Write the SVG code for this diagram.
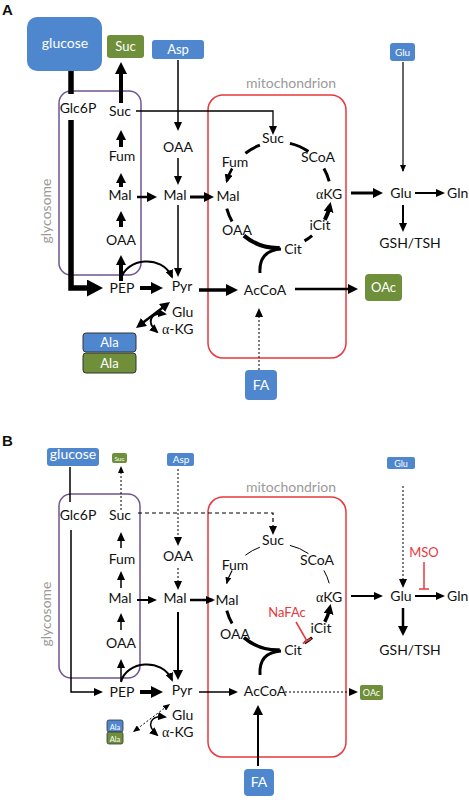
<svg xmlns="http://www.w3.org/2000/svg" width="469" height="800" viewBox="0 0 469 800">
<style>
text{font-family:Lato,"Noto Sans",sans-serif;font-size:14px;fill:#111;text-anchor:middle}
.w{fill:#fff}
.gr{fill:#9a9a9a}
.red{fill:#e8383d}
.lb{font-family:"Liberation Sans",Arial,sans-serif;font-weight:bold;font-size:15px;text-anchor:start}
.st{text-anchor:start}
.al{font-family:"Liberation Serif",serif}
.blue{fill:#4f87cf}
.green{fill:#6f8f3a}
.ln{fill:none;stroke:#000}
.dot{stroke-dasharray:2,2}
.dash{stroke-dasharray:4,3}
.inh{fill:none;stroke:#e8383d;stroke-width:1.5}
.gly{fill:none;stroke:#6f5490;stroke-width:1.5}
.mito{fill:none;stroke:#e8383d;stroke-width:1.5}
</style>
<defs>
<marker id="m6" markerUnits="userSpaceOnUse" markerWidth="7" markerHeight="6" viewBox="0 0 7 6" refX="6" refY="3" orient="auto-start-reverse"><path d="M0,0L7,3L0,6z"/></marker>
<marker id="m8" markerUnits="userSpaceOnUse" markerWidth="9" markerHeight="8" viewBox="0 0 9 8" refX="7" refY="4" orient="auto-start-reverse"><path d="M0,0L9,4L0,8z"/></marker>
<marker id="m10" markerUnits="userSpaceOnUse" markerWidth="10" markerHeight="10" viewBox="0 0 10 10" refX="6" refY="5" orient="auto-start-reverse"><path d="M0,0L10,5L0,10z"/></marker>
<marker id="m12" markerUnits="userSpaceOnUse" markerWidth="12" markerHeight="12" viewBox="0 0 12 12" refX="6" refY="6" orient="auto-start-reverse"><path d="M0,0L12,6L0,12z"/></marker>
<marker id="m16" markerUnits="userSpaceOnUse" markerWidth="16" markerHeight="17" viewBox="0 0 16 17" refX="8" refY="8.5" orient="auto"><path d="M0,0L16,8.5L0,17z"/></marker>
</defs>

<text class="lb" x="2" y="15">A</text>
<text class="lb" x="2" y="446">B</text>

<!-- compartments -->
<g id="glycosomeA"><rect class="gly" x="59" y="91" width="82" height="184" rx="12"/><text class="gr" transform="translate(51,211) rotate(-90)">glycosome</text></g>
<g id="mitoA"><rect class="mito" x="208" y="95" width="138" height="263" rx="15"/><text class="gr" x="291" y="88">mitochondrion</text></g>
<g id="glycosomeB"><rect class="gly" x="59" y="494" width="81" height="184" rx="12"/><text class="gr" transform="translate(51,614) rotate(-90)">glycosome</text></g>
<g id="mitoB"><rect class="mito" x="208" y="497" width="138" height="260" rx="15"/><text class="gr" x="291" y="492">mitochondrion</text></g>

<!-- connectors -->
<g id="connectors" class="ln">
<!-- Panel A -->
<line x1="71" y1="71" x2="71" y2="94" stroke-width="5.5"/>
<path d="M71,120V288H95" stroke-width="5.5" marker-end="url(#m16)"/>
<line x1="121" y1="103" x2="121" y2="68" stroke-width="4" marker-end="url(#m12)"/>
<line x1="121" y1="147" x2="121" y2="134" stroke-width="4" marker-end="url(#m10)"/>
<line x1="121" y1="187" x2="121" y2="177" stroke-width="4" marker-end="url(#m10)"/>
<line x1="121" y1="227" x2="121" y2="215" stroke-width="4" marker-end="url(#m10)"/>
<line x1="121" y1="281" x2="121" y2="259" stroke-width="4" marker-end="url(#m10)"/>
<path d="M121,279C126,258 162,254 172,277" stroke-width="2" marker-end="url(#m8)"/>
<line x1="140" y1="288" x2="157" y2="288" stroke-width="4" marker-end="url(#m12)"/>
<line x1="199" y1="290" x2="232" y2="290" stroke-width="3.5" marker-end="url(#m12)"/>
<line x1="295" y1="289" x2="354" y2="289" stroke-width="2.5" marker-end="url(#m10)"/>
<line x1="351" y1="193" x2="379" y2="193" stroke-width="3" marker-end="url(#m10)"/>
<line x1="415" y1="193" x2="443" y2="193" stroke-width="2" marker-end="url(#m8)"/>
<line x1="403" y1="205" x2="403" y2="230" stroke-width="2" marker-end="url(#m8)"/>
<line x1="403" y1="62" x2="403" y2="171" stroke-width="1.2" marker-end="url(#m6)"/>
<line x1="178" y1="60" x2="178" y2="129" stroke-width="1.5" marker-end="url(#m8)"/>
<line x1="178" y1="158" x2="178" y2="183" stroke-width="1.5" marker-end="url(#m8)"/>
<line x1="178" y1="205" x2="178" y2="275" stroke-width="1.5" marker-end="url(#m8)"/>
<line x1="137" y1="197" x2="153" y2="197" stroke-width="2.5" marker-end="url(#m10)"/>
<line x1="190" y1="197" x2="210" y2="197" stroke-width="3" marker-end="url(#m10)"/>
<path d="M136,111H273V133" stroke-width="1.3" marker-end="url(#m8)"/>
<line class="dot" x1="259" y1="370" x2="259" y2="310" stroke-width="1" marker-end="url(#m8)"/>
<line x1="139.2" y1="325.6" x2="166.8" y2="304.4" stroke-width="2.5" marker-start="url(#m10)" marker-end="url(#m10)"/>
<path d="M157,332C146,322 150,312 165,314" stroke-width="2" marker-start="url(#m8)" marker-end="url(#m8)"/>
<!-- TCA A -->
<path d="M259.9,145.2A53,53 0 0 0 245.4,153.2" stroke-width="3"/>
<path d="M289.9,143.4A53,53 0 0 1 308.4,151.6" stroke-width="3"/>
<path d="M323.9,168.5A53,53 0 0 1 329.2,181.3" stroke-width="3"/>
<path d="M232.1,168.5A53,53 0 0 0 226.8,181.3" stroke-width="2.5" marker-end="url(#m8)"/>
<path d="M226.8,208.7A53,53 0 0 0 232.1,221.5" stroke-width="3"/>
<path d="M243.9,235.6A53,53 0 0 0 279.8,248" stroke-width="4"/>
<path d="M304.5,240.9A53,53 0 0 0 312.1,235.6" stroke-width="3"/>
<path d="M324.8,219.9A53,53 0 0 0 329.8,206" stroke-width="4" marker-end="url(#m10)"/>
<path d="M260,273C259,258 266,250 281,249" stroke-width="3"/>

<!-- Panel B -->
<line x1="70" y1="467" x2="70" y2="502" stroke-width="1.5"/>
<path d="M71,530V692H101" stroke-width="1.5" marker-end="url(#m8)"/>
<line class="dot" x1="121" y1="510" x2="121" y2="467" stroke-width="1" marker-end="url(#m6)"/>
<path class="dash" d="M138,513H273V533" stroke-width="1.2" marker-end="url(#m8)"/>
<line x1="121" y1="548" x2="121" y2="534" stroke-width="1.5" marker-end="url(#m8)"/>
<line x1="121" y1="588" x2="121" y2="573" stroke-width="1.5" marker-end="url(#m8)"/>
<line x1="121" y1="630" x2="121" y2="615" stroke-width="1.5" marker-end="url(#m8)"/>
<line x1="121" y1="681" x2="121" y2="661" stroke-width="1.5" marker-end="url(#m8)"/>
<line class="dot" x1="178" y1="469" x2="178" y2="544" stroke-width="1" marker-end="url(#m8)"/>
<line class="dot" x1="178" y1="568" x2="178" y2="588" stroke-width="1" marker-end="url(#m8)"/>
<line x1="137" y1="600" x2="155" y2="600" stroke-width="2" marker-end="url(#m8)"/>
<line x1="190" y1="600" x2="213" y2="600" stroke-width="2.5" marker-end="url(#m8)"/>
<line x1="178" y1="612" x2="178" y2="676" stroke-width="2" marker-end="url(#m10)"/>
<path d="M121,682C126,661 162,657 172,680" stroke-width="2" marker-end="url(#m8)"/>
<line x1="140" y1="692" x2="157" y2="692" stroke-width="4" marker-end="url(#m12)"/>
<line x1="199" y1="692" x2="236" y2="692" stroke-width="1.5" marker-end="url(#m8)"/>
<line class="dot" x1="285" y1="692" x2="356" y2="692" stroke-width="1" marker-end="url(#m8)"/>
<line x1="258" y1="766" x2="258" y2="709" stroke-width="2" marker-end="url(#m10)"/>
<line class="dot" x1="403" y1="486" x2="403" y2="586" stroke-width="1" marker-end="url(#m8)"/>
<line x1="351" y1="596" x2="381" y2="596" stroke-width="2" marker-end="url(#m8)"/>
<line x1="415" y1="596" x2="443" y2="596" stroke-width="2" marker-end="url(#m8)"/>
<line x1="403" y1="608" x2="403" y2="632" stroke-width="2.5" marker-end="url(#m10)"/>
<line class="dot" x1="133.8" y1="731.4" x2="169.2" y2="704.6" stroke-width="1" marker-start="url(#m6)" marker-end="url(#m6)"/>
<path d="M157,735C146,725 150,715 165,717" stroke-width="1.5" marker-start="url(#m8)" marker-end="url(#m8)"/>
<!-- TCA B -->
<path d="M259.9,547.2A53,53 0 0 0 245.4,555.2" stroke-width="1"/>
<path d="M289.9,545.4A53,53 0 0 1 308.4,553.6" stroke-width="1"/>
<path d="M323.9,570.5A53,53 0 0 1 329.2,583.3" stroke-width="1"/>
<path d="M232.1,570.5A53,53 0 0 0 226.8,583.3" stroke-width="1.2" marker-end="url(#m6)"/>
<path d="M226.8,610.7A53,53 0 0 0 232.1,623.5" stroke-width="3"/>
<path d="M243.9,637.6A53,53 0 0 0 279.8,650" stroke-width="3.5"/>
<path d="M304.5,642.9A53,53 0 0 0 312.1,637.6" stroke-width="3"/>
<path d="M324.8,621.9A53,53 0 0 0 329.8,608" stroke-width="3.5" marker-end="url(#m10)"/>
<path d="M260,675C259,660 266,652 281,651" stroke-width="3"/>
<!-- inhibitions -->
<line class="inh" x1="296" y1="622" x2="307" y2="641"/>
<line class="inh" x1="302.7" y1="643.5" x2="311.3" y2="638.5"/>
<line class="inh" x1="424" y1="562" x2="424" y2="589"/>
<line class="inh" x1="419" y1="589" x2="429" y2="589"/>
</g>

<!-- Panel A nodes -->
<g id="A_glucose"><rect class="blue" x="27" y="17" width="75" height="54" rx="10"/><text class="w" x="65" y="48">glucose</text></g>
<g id="A_SucOut"><rect class="green" x="107" y="35" width="37" height="23" rx="3"/><text class="w" x="125.5" y="51" style="font-size:13px">Suc</text></g>
<g id="A_Asp"><rect class="blue" x="152" y="40" width="52" height="19" rx="3"/><text class="w" x="178" y="54" style="font-size:13px">Asp</text></g>
<g id="A_GluOut"><rect class="blue" x="390" y="43" width="25" height="18" rx="3"/><text class="w" x="402.5" y="56" style="font-size:10px">Glu</text></g>
<g id="A_Glc6P"><text x="78" y="113">Glc6P</text></g>
<g id="A_SucG"><text x="120" y="116">Suc</text></g>
<g id="A_FumG"><text x="122" y="161">Fum</text></g>
<g id="A_MalG"><text x="120" y="200">Mal</text></g>
<g id="A_OAAG"><text x="121" y="245">OAA</text></g>
<g id="A_PEP"><text x="122" y="293">PEP</text></g>
<g id="A_OAAC"><text x="178" y="152">OAA</text></g>
<g id="A_MalC"><text x="175" y="200">Mal</text></g>
<g id="A_Pyr"><text x="182" y="291">Pyr</text></g>
<g id="A_Glu2"><text class="st" x="172" y="317">Glu</text></g>
<g id="A_aKG2"><text class="st" x="162" y="334"><tspan class="al">α</tspan>-KG</text></g>
<g id="A_Ala"><rect class="blue" x="83" y="333" width="53" height="19" rx="3" stroke="#333" stroke-width="1"/><text class="w" x="109.5" y="347" style="font-size:13px">Ala</text><rect class="green" x="83" y="353" width="53" height="20" rx="3" stroke="#333" stroke-width="1"/><text class="w" x="109.5" y="368" style="font-size:13px">Ala</text></g>
<g id="A_AcCoA"><text x="265" y="295">AcCoA</text></g>
<g id="A_OAc"><rect class="green" x="365" y="274" width="37" height="27" rx="4"/><text class="w" x="383.5" y="292" style="font-size:13px">OAc</text></g>
<g id="A_FA"><rect class="blue" x="245" y="370" width="32" height="30" rx="4"/><text class="w" x="261" y="390">FA</text></g>
<g id="A_SucM"><text x="273" y="143">Suc</text></g>
<g id="A_FumM"><text x="235" y="167">Fum</text></g>
<g id="A_SCoA"><text x="318" y="162">SCoA</text></g>
<g id="A_MalM"><text x="228" y="201">Mal</text></g>
<g id="A_aKG"><text x="329" y="199"><tspan class="al">α</tspan>KG</text></g>
<g id="A_OAAM"><text x="237" y="235">OAA</text></g>
<g id="A_iCit"><text x="320" y="230">iCit</text></g>
<g id="A_Cit"><text x="293" y="254">Cit</text></g>
<g id="A_Glu"><text x="401" y="198">Glu</text></g>
<g id="A_Gln"><text class="st" x="447" y="198">Gln</text></g>
<g id="A_GSH"><text x="410" y="248">GSH/TSH</text></g>

<!-- Panel B nodes -->
<g id="B_glucose"><rect class="blue" x="47" y="448" width="52" height="18" rx="3"/><text class="w" x="73" y="459">glucose</text></g>
<g id="B_SucOut"><rect class="green" x="112" y="453" width="15" height="10" rx="2"/><text class="w" x="119.5" y="460.5" style="font-size:6.5px">Suc</text></g>
<g id="B_Asp"><rect class="blue" x="167" y="453" width="27" height="13" rx="2"/><text class="w" x="181" y="463" style="font-size:10px">Asp</text></g>
<g id="B_GluOut"><rect class="blue" x="387" y="457" width="28" height="12" rx="2"/><text class="w" x="401" y="467" style="font-size:9px">Glu</text></g>
<g id="B_Glc6P"><text x="78" y="520">Glc6P</text></g>
<g id="B_SucG"><text x="120" y="520">Suc</text></g>
<g id="B_FumG"><text x="122" y="564">Fum</text></g>
<g id="B_MalG"><text x="120" y="603">Mal</text></g>
<g id="B_OAAG"><text x="121" y="648">OAA</text></g>
<g id="B_PEP"><text x="122" y="697">PEP</text></g>
<g id="B_OAAC"><text x="178" y="561">OAA</text></g>
<g id="B_MalC"><text x="175" y="603">Mal</text></g>
<g id="B_Pyr"><text x="182" y="695">Pyr</text></g>
<g id="B_Glu2"><text class="st" x="172" y="720">Glu</text></g>
<g id="B_aKG2"><text class="st" x="162" y="737"><tspan class="al">α</tspan>-KG</text></g>
<g id="B_Ala"><rect class="blue" x="107" y="720" width="16" height="12" rx="2" stroke="#333" stroke-width="0.8"/><text class="w" x="115" y="729.5" style="font-size:7.5px">Ala</text><rect class="green" x="107" y="732" width="16" height="12" rx="2" stroke="#333" stroke-width="0.8"/><text class="w" x="115" y="741.5" style="font-size:7.5px">Ala</text></g>
<g id="B_AcCoA"><text x="265" y="696">AcCoA</text></g>
<g id="B_OAc"><rect class="green" x="360" y="685" width="23" height="15" rx="2"/><text class="w" x="371.5" y="696" style="font-size:9px">OAc</text></g>
<g id="B_FA"><rect class="blue" x="244" y="769" width="30" height="27" rx="4"/><text class="w" x="259" y="787">FA</text></g>
<g id="B_SucM"><text x="273" y="545">Suc</text></g>
<g id="B_FumM"><text x="235" y="570">Fum</text></g>
<g id="B_SCoA"><text x="317" y="565">SCoA</text></g>
<g id="B_MalM"><text x="227" y="605">Mal</text></g>
<g id="B_aKG"><text x="329" y="602"><tspan class="al">α</tspan>KG</text></g>
<g id="B_NaFAc"><text class="red" x="287" y="617" style="font-size:13px">NaFAc</text></g>
<g id="B_iCit"><text x="321" y="633">iCit</text></g>
<g id="B_OAAM"><text x="235" y="639">OAA</text></g>
<g id="B_Cit"><text x="293" y="655">Cit</text></g>
<g id="B_Glu"><text x="401" y="601">Glu</text></g>
<g id="B_Gln"><text class="st" x="447" y="601">Gln</text></g>
<g id="B_GSH"><text x="410" y="655">GSH/TSH</text></g>
<g id="B_MSO"><text class="red" x="424" y="557" style="font-size:13px">MSO</text></g>
</svg>
